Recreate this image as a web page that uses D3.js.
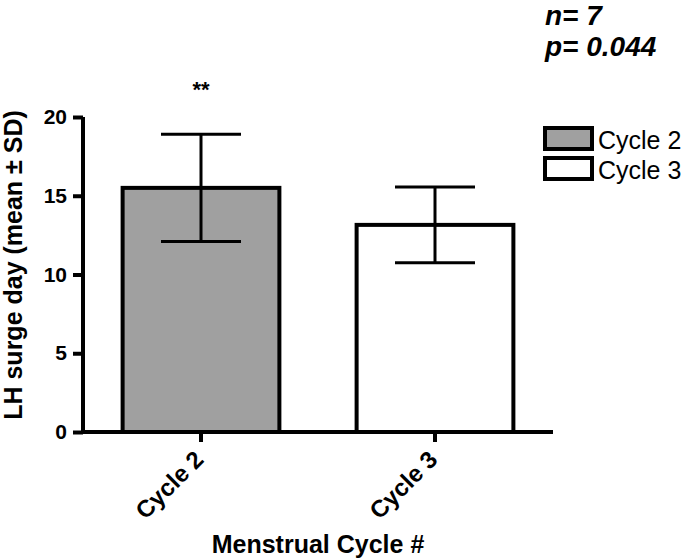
<!DOCTYPE html>
<html>
<head>
<meta charset="utf-8">
<script src="https://cdn.jsdelivr.net/npm/d3@7"></script>
<style>
  body { margin: 0; background: #fff; }
  svg { display: block; }
  text { font-family: "Liberation Sans", Arial, Helvetica, sans-serif; fill: #000; }
</style>
</head>
<body>
<svg id="chart" width="685" height="560"></svg>
<script>
const categories = ["Cycle 2", "Cycle 3"];
const means = [15.5, 13.15];
const sds = [3.4, 2.4];
const fills = ["#a0a0a0", "#ffffff"];
const yTicks = [0, 5, 10, 15, 20];
const statsLines = ["n= 7", "p= 0.044"];
const sigMarks = ["**", ""];
const yTitle = "LH surge day (mean \u00b1 SD)";
const xTitle = "Menstrual Cycle #";

const svg = d3.select("#chart");

const y = d3.scaleLinear().domain([0, 20]).range([432, 117]);
const x = d3.scaleBand().domain(categories).range([84, 552])
  .paddingInner(0.33).paddingOuter(0.165);

// Bars
svg.append("g").selectAll("rect").data(categories).join("rect")
  .attr("x", d => x(d))
  .attr("y", (d, i) => y(means[i]))
  .attr("width", x.bandwidth())
  .attr("height", (d, i) => y(0) - y(means[i]))
  .attr("fill", (d, i) => fills[i])
  .attr("stroke", "#000")
  .attr("stroke-width", 4);

// Error bars
const capW = 80;
const eb = svg.append("g").attr("stroke", "#000").attr("stroke-width", 3);
categories.forEach((c, i) => {
  const cx = x(c) + x.bandwidth() / 2;
  eb.append("line").attr("x1", cx).attr("x2", cx)
    .attr("y1", y(means[i] + sds[i])).attr("y2", y(means[i] - sds[i]));
  eb.append("line").attr("x1", cx - capW / 2).attr("x2", cx + capW / 2)
    .attr("y1", y(means[i] + sds[i])).attr("y2", y(means[i] + sds[i]));
  eb.append("line").attr("x1", cx - capW / 2).attr("x2", cx + capW / 2)
    .attr("y1", y(means[i] - sds[i])).attr("y2", y(means[i] - sds[i]));
});

// Significance marks
svg.append("g").selectAll("text").data(categories).join("text")
  .attr("x", d => x(d) + x.bandwidth() / 2)
  .attr("y", 97)
  .attr("text-anchor", "middle")
  .attr("font-size", 22)
  .attr("font-weight", "bold")
  .text((d, i) => sigMarks[i]);

// Y axis
const yAxis = svg.append("g").attr("transform", "translate(83,0)")
  .call(d3.axisLeft(y).tickValues(yTicks).tickSize(10).tickSizeOuter(0).tickPadding(6));
yAxis.selectAll("path, line").attr("stroke", "#000").attr("stroke-width", 4);
yAxis.select(".domain").attr("d", `M0,${y(20)}V${y(0) + 2}`);
yAxis.selectAll("text").attr("font-size", 21).attr("font-weight", "bold")
  .attr("font-family", "Liberation Sans, Arial, sans-serif").attr("fill", "#000");

// X axis
const xAxis = svg.append("g").attr("transform", "translate(0,432)")
  .call(d3.axisBottom(x).tickSize(10).tickSizeOuter(0).tickPadding(6));
xAxis.selectAll("path, line").attr("stroke", "#000").attr("stroke-width", 4);
xAxis.select(".domain").attr("d", "M81,0H553");
xAxis.selectAll("text")
  .attr("font-size", 24).attr("font-weight", "bold")
  .attr("font-family", "Liberation Sans, Arial, sans-serif").attr("fill", "#000")
  .attr("text-anchor", "end")
  .attr("dy", null)
  .attr("transform", "translate(4,29) rotate(-45)")
  .attr("y", 0).attr("x", 0);

// Axis titles
svg.append("text")
  .attr("transform", "translate(22,265) rotate(-90)")
  .attr("text-anchor", "middle")
  .attr("font-size", 25).attr("font-weight", "bold")
  .text(yTitle);

svg.append("text")
  .attr("x", 318).attr("y", 553)
  .attr("text-anchor", "middle")
  .attr("font-size", 25).attr("font-weight", "bold")
  .text(xTitle);

// Stats text
svg.append("g").selectAll("text").data(statsLines).join("text")
  .attr("x", 545).attr("y", (d, i) => 25 + i * 31)
  .attr("font-size", 28).attr("font-weight", "bold").attr("font-style", "italic")
  .text(d => d);

// Legend
const leg = svg.append("g");
categories.forEach((c, i) => {
  const ly = 128 + i * 30;
  leg.append("rect").attr("x", 545).attr("y", ly).attr("width", 47).attr("height", 21)
    .attr("fill", fills[i]).attr("stroke", "#000").attr("stroke-width", 4);
  leg.append("text").attr("x", 598).attr("y", ly + 21)
    .attr("font-size", 25).text(c);
});
</script>
</body>
</html>
